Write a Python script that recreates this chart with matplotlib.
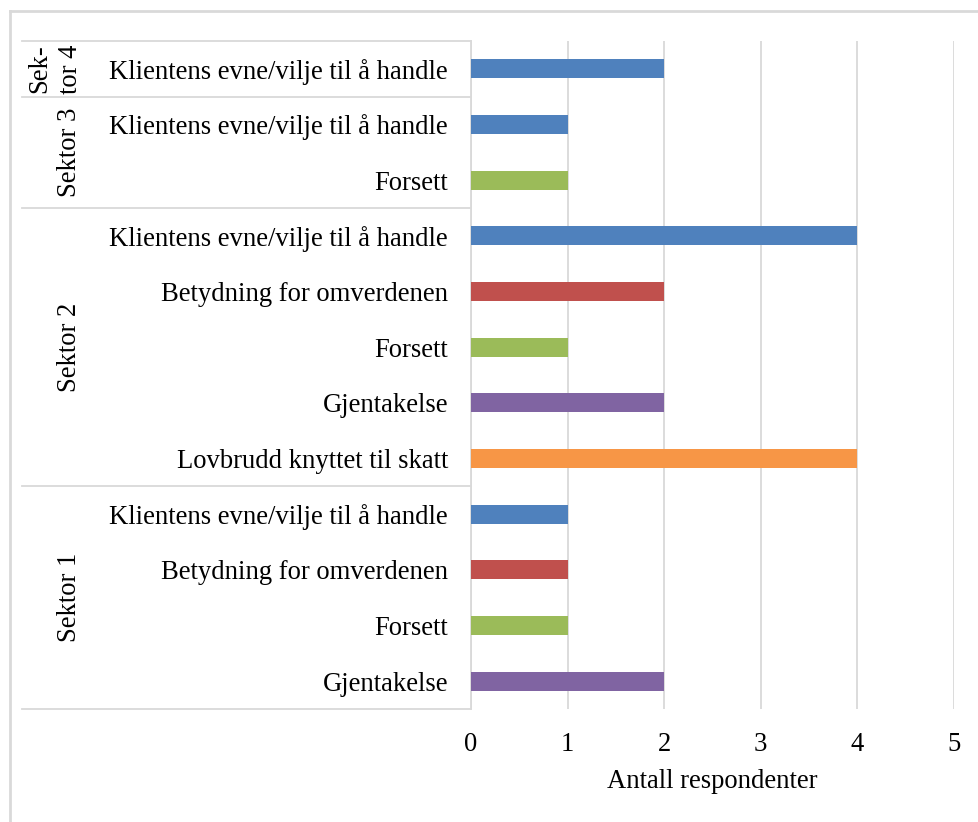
import matplotlib.pyplot as plt
from matplotlib.lines import Line2D

# Data (top to bottom as in the chart)
categories = [
    "Klientens evne/vilje til å handle",
    "Klientens evne/vilje til å handle",
    "Forsett",
    "Klientens evne/vilje til å handle",
    "Betydning for omverdenen",
    "Forsett",
    "Gjentakelse",
    "Lovbrudd knyttet til skatt",
    "Klientens evne/vilje til å handle",
    "Betydning for omverdenen",
    "Forsett",
    "Gjentakelse",
]
values = [2, 1, 1, 4, 2, 1, 2, 4, 1, 1, 1, 2]
groups = ["Sek-\ntor 4", "Sektor 3", "Sektor 2", "Sektor 1"]
group_sizes = [1, 2, 5, 4]

color_map = {
    "Klientens evne/vilje til å handle": "#4F81BD",
    "Betydning for omverdenen": "#C0504D",
    "Forsett": "#9BBB59",
    "Gjentakelse": "#8064A2",
    "Lovbrudd knyttet til skatt": "#F79646",
}

plt.rcParams['font.family'] = ['Liberation Serif', 'DejaVu Serif']
fs = 19.2
grid_col = "#D9D9D9"

fig = plt.figure(figsize=(9.79, 8.22), dpi=100)
ax = fig.add_axes([471 / 979, 1 - 709 / 822, 483 / 979, 668 / 822])

ypos = list(range(len(categories)))
ax.barh(ypos, values, height=0.34, color=[color_map[c] for c in categories], zorder=3)

ax.set_xlim(0, 5)
ax.set_ylim(len(categories) - 0.5, -0.5)
ax.set_xticks(range(6))
ax.set_xticklabels([str(i) for i in range(6)], fontsize=fs)
ax.set_yticks(ypos)
ax.set_yticklabels(categories, fontsize=fs)
ax.tick_params(axis='both', length=0)
ax.tick_params(axis='y', pad=16.5)
ax.tick_params(axis='x', pad=16.5)
ax.set_xlabel("Antall respondenter", fontsize=fs, labelpad=9)

ax.grid(axis='x', color=grid_col, linewidth=1.3, zorder=0)
for side in ['top', 'right', 'bottom']:
    ax.spines[side].set_visible(False)
ax.spines['left'].set_color(grid_col)
ax.spines['left'].set_linewidth(1.3)

# group separators and labels
trans = ax.get_yaxis_transform()
x_left = (22 - 471) / 483
x_label = (70 - 471) / 483
start = -0.5
ax.plot([x_left, 0], [start, start], color=grid_col, lw=1.3, transform=trans, clip_on=False)
for g, n in zip(groups, group_sizes):
    end = start + n
    ax.plot([x_left, 0], [end, end], color=grid_col, lw=1.3, transform=trans, clip_on=False)
    mid = (start + end) / 2
    if "\n" in g:
        ax.text((55 - 471) / 483, mid, g, rotation=90, ha='center', va='center',
                multialignment='right', linespacing=1.3, fontsize=fs, transform=trans)
    else:
        ax.text(x_label, mid, g, rotation=90, ha='center', va='center',
                fontsize=fs, transform=trans)
    start = end

# outer chart border (partly cut off in the reference)
fig.add_artist(Line2D([10 / 979, 10 / 979], [0, 1 - 11 / 822], color=grid_col, lw=2, transform=fig.transFigure))
fig.add_artist(Line2D([10 / 979, 1], [1 - 11 / 822, 1 - 11 / 822], color=grid_col, lw=2, transform=fig.transFigure))

fig.savefig("out.png", dpi=100)
